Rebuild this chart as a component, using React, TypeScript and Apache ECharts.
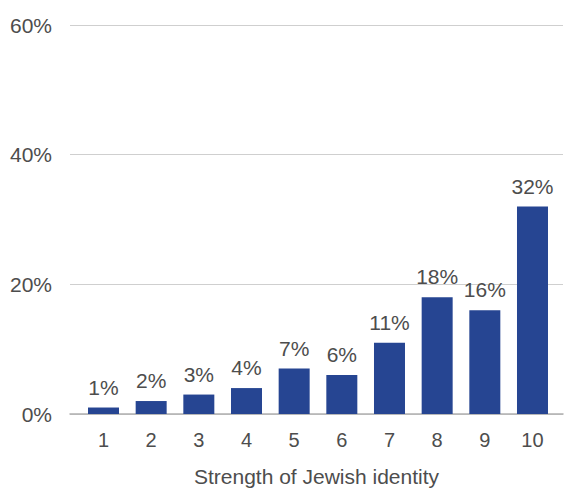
import React, { useEffect, useRef } from "react";
import * as echarts from "echarts";

const categories = [1, 2, 3, 4, 5, 6, 7, 8, 9, 10];
const shares = [1, 2, 3, 4, 7, 6, 11, 18, 16, 32];
const yTicks = [0, 20, 40, 60];
const axisTitle = "Strength of Jewish identity";

const FONT = "Liberation Sans";
const TEXT = "#4d4d4d";

export default function App() {
  const ref = useRef<HTMLDivElement>(null);
  useEffect(() => {
    if (!ref.current) return;
    const chart = echarts.init(ref.current, undefined, { renderer: "svg" });
    const yMin = yTicks[0];
    const yMax = yTicks[yTicks.length - 1];
    const barData = categories.map((c, i) => [c, shares[i]]);
    chart.setOption({
      animation: false,
      grid: { left: 70, right: 1, top: 25, bottom: 74, outerBoundsMode: "none", containLabel: false },
      xAxis: {
        type: "value",
        min: 0.2973,
        max: 10.64,
        splitLine: { show: false },
        axisTick: { show: false },
        axisLine: { show: true, onZero: true, lineStyle: { color: "#b0b0b0", width: 1.5 } },
        axisLabel: {
          color: TEXT,
          fontSize: 20,
          fontFamily: FONT,
          margin: 16,
          customValues: categories,
          formatter: (v: number) => `${v}`,
        },
        name: axisTitle,
        nameLocation: "middle",
        nameGap: 52,
        nameTextStyle: { color: TEXT, fontSize: 21, fontFamily: FONT },
      },
      yAxis: {
        type: "value",
        min: yMin,
        max: yMax,
        interval: 20,
        axisLine: { show: false },
        axisTick: { show: false },
        splitLine: { show: true, lineStyle: { color: "#cfcfcf", width: 1 } },
        axisLabel: {
          color: TEXT,
          fontSize: 21,
          fontFamily: FONT,
          margin: 18,
          formatter: (v: number) => `${v}%`,
        },
      },
      series: [
        {
          type: "bar",
          data: barData,
          barWidth: 31,
          itemStyle: { color: "#264592" },
          label: {
            show: true,
            position: "top",
            distance: 10,
            color: TEXT,
            fontSize: 21,
            fontFamily: FONT,
            formatter: (p: any) => `${p.value[1]}%`,
          },
        },
      ],
    });
    return () => chart.dispose();
  }, []);
  return (
    <div
      ref={ref}
      style={{ position: "absolute", left: 0, top: 0, width: 564, height: 488, background: "#fff" }}
    />
  );
}
